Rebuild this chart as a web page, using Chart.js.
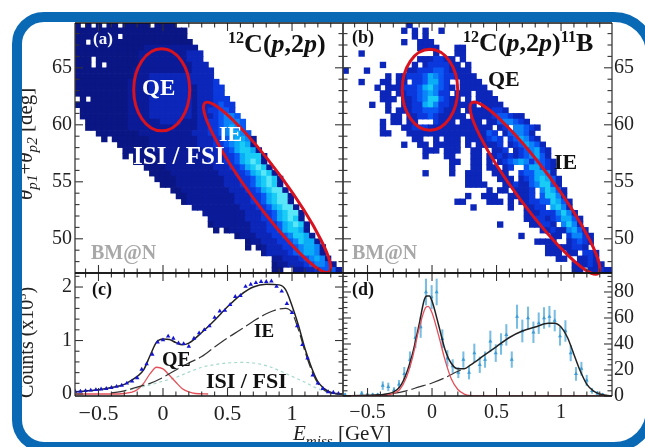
<!DOCTYPE html>
<html><head><meta charset="utf-8">
<script src="https://cdn.jsdelivr.net/npm/chart.js@4"></script>
<style>
html,body{margin:0;padding:0;background:#fff;overflow:hidden}
#stage{position:absolute;left:0;top:0;width:645px;height:447px;overflow:hidden;filter:blur(.55px)}
canvas{position:absolute;left:0;top:0}
.t{position:absolute;white-space:nowrap;line-height:1;font-family:"Liberation Serif",serif}
.b{font-weight:bold}
.s{font-size:.62em;position:relative;top:-.55em}
.d{font-size:.72em;position:relative;top:.35em}
#frame{position:absolute;left:12px;top:12px;width:644px;height:440px;box-sizing:border-box;border:10.5px solid #0a69b4;border-radius:32px 42px 42px 32px;pointer-events:none}
</style></head><body>
<div id="stage">
<canvas id="ca" width="645" height="447"></canvas>
<canvas id="cb" width="645" height="447"></canvas>
<canvas id="cc" width="645" height="447"></canvas>
<canvas id="cd" width="645" height="447"></canvas>
<div id="labels"></div>
<div id="frame"></div>
</div>
<script>
// ---------- heat-map values: one string per 0.5 deg row, top row first; '.' = empty bin, 1-9 = colour level
const levelColors = ['', '#0a1684','#0b1b98','#0b26b8','#0a38dc','#0a58f4','#0a84f8','#0aacf8','#18ccf6','#58e6f8'];
const binE = 0.0413, binDeg = 0.5, deg_top = 69;
const startsA = [0,0,0,0,0,0,0,0,0,0,0,0,0,0,0,0,0,2,2,4,5,8,9,9,11,13,14,15,16,18,19,20,22,24,25,25,26,30,32,32,35,37,37,37];
const rowsA = [
"1.1.1.11.11111.1111.",
"111111111111111111111",
"11111111.111111111111",
"11.1111111111111111111",
"11111111111112222222222",
"111111111111222222222333",
"111.11111111222222222333",
"111.1.1111112222222222333",
"11111111111222222222223333",
"11111111111222333333333333",
"111111111122223333333333334",
"1111111111222233333333233344",
"1111111111222233333333233344",
".1.11111112222333333332333444",
"111111111122223333333323334544",
".11111111122223333333323344554",
".111111111222233333333233345665",
"111111112222223333222334456665",
"111111112222222222222334456765",
"11111111222222222233344567765",
"1.111111122222222233344567762",
"11111122222222233344567872",
"11111122222222233344578872",
"1.1111122222222233344578882",
"1111122222222233344578982",
"111122222222233344578982",
"111122222222233344578982",
"111122222222233344578982",
"11122222222233344578982",
"1122222222233344578992",
"1122222222233344578992",
"122222222233344578992",
"22222222233344578992",
"2222222233344578992",
"222222233344578982",
"1222222233344578982",
"1.1222233344578872",
"122233344568872",
"12233344568772",
"1.1233344567762",
"233334567762",
"22333456762",
"122333456652",
"11..223345552"];
const startsB = [12,11,13,11,14,3,14,7,0,8,3,6,7,7,5,8,9,7,7,7,13,11,15,15,20,20,15,23,23,27,23,21,24,34,34,29,37,33,36,38,38,40,43,43];
const rowsB = [
"3",
"3.3.3..3",
"3.3",
"3..333",
"3333...33",
"3.............3...33",
"3334433.3",
"3.....3.3444433.3",
"3...3.......334445543333",
"3.334445765443333",
"3...33.33.4457754..3333",
"3.3334445786543.33333",
"33.3344567644.333.333",
"333.33456885433.3.3333",
"3..3..33447864433333.3333",
"3.333445554333.33333443",
"33.33445433333.3333455433",
"3.33.33...4333.3333.33566543",
"3...33444333333333333.34.66543",
"33...33333333333333354.356653",
"33..3.333.3333454.457643",
"3..33.33333.3.33334.3457653",
"333.333..33..334.3456743",
"3...33...33.334343456753",
"33..33.3.34567646543",
"3...33.33.34..577543",
"3....3..333..333..4557763",
"333...333.34578753",
"3333...33433568853",
"3.33.3334.68753",
"3..333..33334.58863",
"33....333.3.3344558753",
"3......3..3344.7863",
"3334446863",
"33443457753",
"3.....33443.6863",
"334336753",
"3.....33.46643",
"3333..34543",
"33333443",
"333.33.443",
"33..3343",
"333433",
"33.33433"];
// ---------- panel (c) values
const pointsCE = [-.68,-.64,-.6,-.56,-.52,-.48,-.44,-.4,-.36,-.32,-.28,-.24,-.2,-.165,-.127,-.083,-.042,0,.04,.08,.12,.16,.2,.24,.28,.32,.36,.4,.44,.48,.52,.56,.6,.64,.68,.72,.76,.8,.84,.88,.92,.96,1,1.04,1.08,1.12,1.16,1.2,1.24,1.28,1.32,1.36];
const pointsCV = [.05,.05,.06,.07,.08,.09,.1,.12,.14,.16,.2,.24,.3,.46,.56,.74,.97,1.01,1.08,1.04,.95,.94,.89,1.04,1.14,1.2,1.27,1.43,1.55,1.56,1.67,1.82,1.84,2.01,2.05,2.08,2.1,2.1,2.11,2.01,1.92,1.69,1.52,1.27,.92,.67,.35,.2,.1,.04,.03,.01];
const totalCE = [-.68,-.5,-.4,-.3,-.25,-.2,-.15,-.1,-.05,0,.05,.1,.15,.2,.3,.4,.5,.6,.7,.8,.9,.95,1,1.05,1.1,1.15,1.2,1.25,1.3,1.39];
const totalCV = [.04,.08,.12,.18,.25,.33,.45,.72,.97,1.03,1.02,.96,.92,.95,1.15,1.38,1.63,1.85,2,2.05,2.04,1.95,1.65,1.28,.85,.5,.23,.1,.03,0];
const ieCE = [-.4,-.3,-.2,-.1,0,.1,.2,.3,.4,.5,.6,.7,.8,.9,.95,1,1.05,1.1,1.15,1.2,1.25,1.3,1.39];
const ieCV = [.02,.06,.13,.2,.31,.45,.58,.7,.88,1.05,1.2,1.36,1.5,1.59,1.6,1.52,1.2,.8,.45,.2,.07,.02,0];
const isiCE = [-.3,-.2,-.1,0,.1,.2,.3,.4,.5,.6,.7,.8,.9,1,1.1,1.2,1.3];
const isiCV = [.06,.11,.17,.24,.31,.41,.5,.55,.58,.59,.58,.53,.44,.33,.22,.1,.01];
const qeCE = [-.69,-.4,-.3,-.25,-.2,-.15,-.1,-.05,0,.05,.1,.15,.2,.25,.35];
const qeCV = [0,0,.01,.03,.08,.2,.38,.5,.47,.35,.22,.1,.04,.01,0];
// ---------- panel (d) values
const pointsDE = [-.674,-.545,-.501,-.46,-.421,-.382,-.339,-.295,-.256,-.215,-.171,-.129,-.088,-.047,-.003,.036,.08,.119,.16,.204,.243,.287,.328,.37,.411,.452,.494,.535,.576,.618,.659,.7,.744,.786,.827,.868,.91,.951,.992,1.034,1.075,1.116,1.158,1.199,1.24,1.282,1.323];
const pointsDV = [1,2,1,1,1,8,7,4.5,9,17,28,45,53,80,76,80,44,29,23,18,28,18,33,24,28,42,33,40,47,28,61,50,60,49,56,60,61,58,46,50,33,17,21,12,4,2,1];
const errorsD = [1,1.4,1,1,1,3,3,2,3,5,6,8,8,10,9,10,7,6,5,4,6,5,7,6,6,8,6.5,8,8,6,9,8.5,8.5,8,8,8,8,8,7,8,6,5,5,4,2,1.5,1];
const totalDE = [-.69,-.5,-.4,-.3,-.25,-.2,-.15,-.1,-.06,-.04,-.02,0,.05,.1,.15,.2,.25,.3,.4,.5,.6,.7,.8,.9,.95,1,1.05,1.1,1.15,1.2,1.25,1.3,1.39];
const totalDV = [0,.5,1,3,7,17,33,55,74,77,77,73,55,36,25,21,21,24,31,38,45,50,53,56,56,53,45,32,19,9,4,1.5,0];
const qeDE = [-.69,-.4,-.3,-.25,-.2,-.15,-.1,-.05,-.03,0,.05,.1,.15,.2,.25,.3,.4,1.39];
const qeDV = [0,0,2,5,14,30,52,68,69,64,47,28,13,5,1.5,.3,0,0];
const ieDE = [-.45,-.3,-.2,-.1,0,.1,.2,.25];
const ieDV = [.5,2,4,7,10,14,19,21];
// ---------- axis ticks
const majorE = [-.5,0,.5,1];
const minorE = [-.6,-.4,-.3,-.2,-.1,.1,.2,.3,.4,.6,.7,.8,.9,1.1,1.2,1.3];
const majorDeg = [50,55,60,65];
const minorDeg = [48,49,51,52,53,54,56,57,58,59,61,62,63,64,66,67,68];
const majorC = [0,1,2];
const minorC = [.2,.4,.6,.8,1.2,1.4,1.6,1.8,2.2];
const majorD = [0,20,40,60,80];
const minorD = [4,8,12,16,24,28,32,36,44,48,52,56,64,68,72,76,84,88,92];
// ---------- ellipses in data units
const qeEllipseA = [-.01,63.07,.217,3.6];
const ieEllipseA = [.326,61.93,1.287,47.1,17.5];
const qeEllipseB = [-.016,63.07,.215,3.55];
const ieEllipseB = [.308,61.93,1.287,46.95,18.5];

function zip(xs,ys){return xs.map((x,i)=>({x,y:ys[i]}));}
function cells(starts,rows,eMin){
  const data=[],colors=[];
  rows.forEach((s,r)=>{[...s].forEach((ch,i)=>{
    if(ch==='.'||ch==='0')return;
    data.push({x:eMin+(starts[r]+i+.5)*binE,y:deg_top-(r+.5)*binDeg});
    colors.push(levelColors[+ch]);
  });});
  return {data,pointStyle:'rect',pointRadius:4.5,pointHoverRadius:4.5,pointBorderWidth:0,pointBackgroundColor:colors,showLine:false};
}
function panelPlugin(cfg){return {id:'panel',afterDatasetsDraw(chart){
  const c=chart.ctx,a=chart.chartArea,X=chart.scales.x,Y=chart.scales.y;
  c.save();
  (cfg.ellipses||[]).forEach(e=>{
    c.beginPath();c.strokeStyle='#d8121e';c.lineWidth=3;
    if(e.length===4){
      const cx=X.getPixelForValue(e[0]),cy=Y.getPixelForValue(e[1]);
      c.ellipse(cx,cy,Math.abs(X.getPixelForValue(e[0]+e[2])-cx),Math.abs(Y.getPixelForValue(e[1]+e[3])-cy),0,0,Math.PI*2);
    }else{
      const x1=X.getPixelForValue(e[0]),y1=Y.getPixelForValue(e[1]),x2=X.getPixelForValue(e[2]),y2=Y.getPixelForValue(e[3]);
      c.ellipse((x1+x2)/2,(y1+y2)/2,Math.hypot(x2-x1,y2-y1)/2,e[4],Math.atan2(y2-y1,x2-x1),0,Math.PI*2);
    }
    c.stroke();
  });
  c.lineWidth=1.1;c.strokeStyle='#333';
  function seg(x1,y1,x2,y2){c.beginPath();c.moveTo(x1,y1);c.lineTo(x2,y2);c.stroke();}
  [[cfg.xMajor,8],[cfg.xMinor,4.5]].forEach(([vals,l])=>vals.forEach(v=>{
    const p=X.getPixelForValue(v);seg(p,a.bottom,p,a.bottom-l);seg(p,a.top,p,a.top+l);}));
  [[cfg.yMajor,8],[cfg.yMinor,4.5]].forEach(([vals,l])=>vals.forEach(v=>{
    const p=Y.getPixelForValue(v);seg(a.left,p,a.left+l,p);seg(a.right,p,a.right-l,p);}));
  c.lineWidth=1.3;c.strokeStyle='#3a3a3a';seg(a.left,a.top,a.left,a.bottom);seg(a.right,a.top,a.right,a.bottom);
  c.lineWidth=1.6;c.strokeStyle='#111';seg(a.left,a.bottom,a.right,a.bottom);seg(a.left,a.top,a.right,a.top);
  c.restore();
}};}
function makePanel(id,box,xr,yr,datasets,cfg){
  const fmt=v=>String(v).replace('-','\u2212');
  const fontFam='"Liberation Serif",serif';
  const yW=30,xH=30,left=cfg.ySide==='left';
  return new Chart(document.getElementById(id),{
    type:'scatter',
    data:{datasets},
    plugins:[panelPlugin(cfg)],
    options:{responsive:false,animation:false,events:[],devicePixelRatio:1,
      layout:{padding:{left:box[0]-(left?yW:0),top:box[1],right:645-box[2]-(left?0:yW),bottom:447-box[3]-xH}},
      plugins:{legend:{display:false},tooltip:{enabled:false}},
      scales:{
        x:{type:'linear',offset:false,min:xr[0],max:xr[1],position:'bottom',border:{display:false},grid:{display:false,offset:false,drawTicks:false},
          afterFit(s){s.height=xH;},
          afterBuildTicks(s){s.ticks=cfg.xMajor.map(v=>({value:v}));},
          ticks:{display:!!cfg.xLabels,autoSkip:false,maxRotation:0,padding:cfg.xPad||4,color:'#222',font:{family:fontFam,size:cfg.xFont||20},callback:fmt}},
        y:{type:'linear',min:yr[0],max:yr[1],position:cfg.ySide,border:{display:false},grid:{display:false,drawTicks:false},
          afterFit(s){s.width=yW;},
          afterBuildTicks(s){s.ticks=cfg.yMajor.map(v=>({value:v}));},
          ticks:{autoSkip:false,padding:cfg.yPad||3,color:'#222',font:{family:fontFam,size:20},callback:fmt}}
      }
    }
  });
}
const line=(xs,ys,color,w,dash,order)=>({data:zip(xs,ys),showLine:true,borderColor:color,borderWidth:w,borderDash:dash||[],pointRadius:0,cubicInterpolationMode:'monotone',order:order,fill:false});

const rangeEA=[-.682,1.395], rangeEB=[-.69,1.395];
makePanel('ca',[75,23,343,273],rangeEA,[47,68.93],[cells(startsA,rowsA,rangeEA[0])],
  {xMajor:majorE,xMinor:minorE,yMajor:majorDeg,yMinor:minorDeg,ySide:'left',ellipses:[qeEllipseA,ieEllipseA]});
makePanel('cb',[343,23,612,273],rangeEB,[47,68.93],[cells(startsB,rowsB,rangeEB[0])],
  {xMajor:majorE,xMinor:minorE,yMajor:majorDeg,yMinor:minorDeg,ySide:'right',yPad:2,ellipses:[qeEllipseB,ieEllipseB]});
makePanel('cc',[75,273,343,396],rangeEA,[-.037,2.262],[
  line(isiCE,isiCV,'#a6d8cc',1.2,[3,3],4),
  line(qeCE,qeCV,'#e4505a',1.3,[],3),
  line(ieCE,ieCV,'#333',1.2,[15,4],2),
  line(totalCE,totalCV,'#222',1.5,[],1),
  {data:zip(pointsCE,pointsCV),showLine:false,pointStyle:'triangle',pointRadius:2.6,pointBorderWidth:0,pointBackgroundColor:'#1414d4',order:0}
],{xMajor:majorE,xMinor:minorE,yMajor:majorC,yMinor:minorC,ySide:'left',xLabels:true,xFont:22,xPad:5});
makePanel('cd',[343,273,612,396],rangeEB,[0,94.6],[
  {type:'bar',data:pointsDE.map((x,i)=>({x,y:[pointsDV[i]-errorsD[i],pointsDV[i]+errorsD[i]]})),backgroundColor:'#79bde0',barThickness:1.4,grouped:false,order:5},
  {data:zip(pointsDE,pointsDV),showLine:false,pointStyle:'triangle',pointRadius:2.3,pointBorderWidth:0,pointBackgroundColor:'#3d9bd6',order:4},
  line(ieDE,ieDV,'#333',1.2,[15,4],3),
  line(totalDE,totalDV,'#222',1.5,[],2),
  line(qeDE,qeDV,'#e4505a',1.3,[],1)
],{xMajor:majorE,xMinor:minorE,yMajor:majorD,yMinor:minorD,ySide:'right',yPad:2,xLabels:true,xFont:20,xPad:5});

// ---------- text labels: html, left x, baseline y, size, colour, classes
const labelList = [
 ['(a)',93,44,17,'#f4f6ff','b'],['QE',142,95,23,'#fff','b'],['ISI / FSI',133,164,25,'#fff','b'],['IE',219,141,22,'#fff','b'],
 ['BM@N',91,259,20,'#a8a8a8','b'],
 ['<span class="s">12</span>C(<i>p</i>,2<i>p</i>)',228,53,26,'#111','b'],
 ['(b)',352,43,18,'#111','b'],
 ['<span class="s">12</span>C(<i>p</i>,2<i>p</i>)<span class="s">11</span>B',463,52,26,'#111','b'],
 ['QE',488,86,22,'#111','b'],['IE',554,169,22,'#111','b'],['BM@N',352,259,20,'#a8a8a8','b'],
 ['(c)',92,295,18,'#111','b'],['(d)',352,295,18,'#111','b'],
 ['QE',162,366,20,'#111','b'],['IE',254,337,19,'#111','b'],['ISI / FSI',206,388,22,'#111','b'],
 ['<i>E<span class="d">miss</span></i> [GeV]',293,441,21,'#222','']
];
const rotatedList = [
 ['<i>\u03b8<span class="d">p1</span></i>+<i>\u03b8<span class="d">p2</span></i> [deg]',33,200,21],
 ['Counts (x10<span class="s">3</span>)',33,398,20]
];
const host=document.getElementById('labels');
labelList.forEach(([h,x,b,s,col,cl])=>{
  const e=document.createElement('div');e.className='t '+cl;e.innerHTML=h;
  e.style.cssText+=`left:${x}px;top:${b-.8375*s}px;font-size:${s}px;color:${col}`;host.appendChild(e);
});
rotatedList.forEach(([h,bx,y,s])=>{
  const e=document.createElement('div');e.className='t';e.innerHTML=h;
  e.style.cssText+=`left:${bx-.8375*s}px;top:${y}px;font-size:${s}px;color:#222;transform-origin:0 0;transform:rotate(-90deg)`;host.appendChild(e);
});
</script>
</body></html>
